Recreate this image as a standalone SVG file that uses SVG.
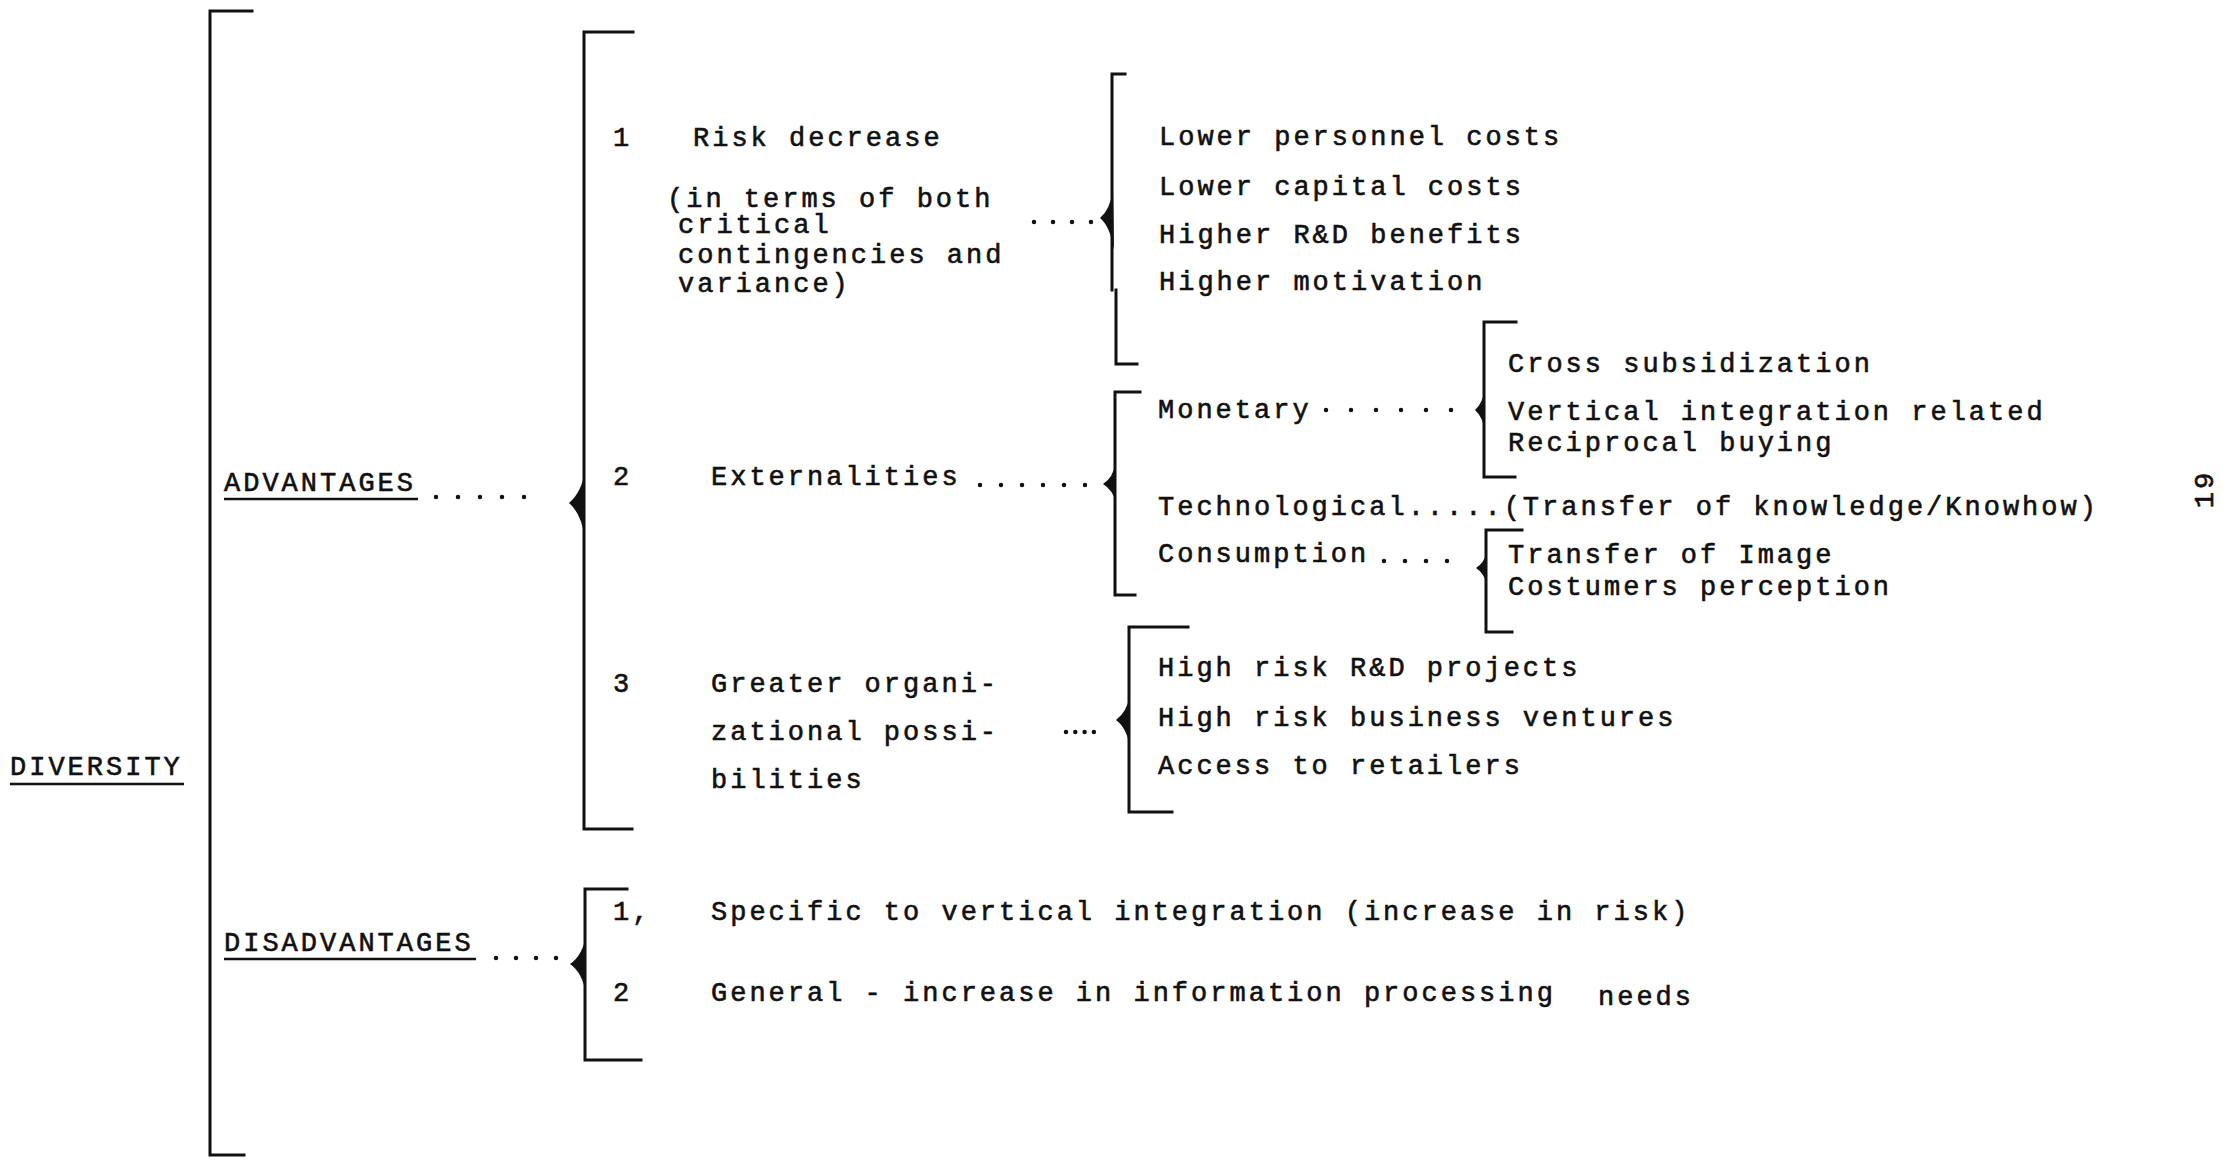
<svg xmlns="http://www.w3.org/2000/svg" width="2223" height="1161" viewBox="0 0 2223 1161">
<style>
  text { font-family: "Liberation Mono", "Courier New", monospace; font-size: 27px; letter-spacing: 3px; fill: #111; stroke: #111; stroke-width: 0.6px; }
  .br { fill: none; stroke: #111; stroke-width: 3; stroke-linecap: square; }
  .cusp { fill: #111; stroke: none; }
  .ul { stroke: #111; stroke-width: 2.5; }
  .lead { stroke: #111; stroke-width: 4.5; stroke-linecap: round; fill: none; }
</style>
<rect width="2223" height="1161" fill="#ffffff"/>

<g id="connectors">
  <line class="lead" x1="436" y1="497" x2="526" y2="497" stroke-dasharray="0 22"/>
  <line class="lead" x1="980" y1="485" x2="1087" y2="485" stroke-dasharray="0 21"/>
  <line class="lead" x1="1034" y1="222" x2="1093" y2="222" stroke-dasharray="0 19"/>
  <line class="lead" x1="1326" y1="410" x2="1453" y2="410" stroke-dasharray="0 25"/>
  <line class="lead" x1="1384" y1="561" x2="1450" y2="561" stroke-dasharray="0 21"/>
  <line class="lead" x1="1066" y1="732" x2="1096" y2="732" stroke-dasharray="0 9.3"/>
  <line class="lead" x1="496" y1="958" x2="558" y2="958" stroke-dasharray="0 20"/>
</g>

<g id="diversity">
  <text x="10" y="775">DIVERSITY</text>
  <line class="ul" x1="10" y1="784" x2="184" y2="784"/>
  <path class="br" d="M252 11 H210 V1155 H244"/>
</g>

<g id="advantages">
  <text x="224" y="491">ADVANTAGES</text>
  <line class="ul" x1="224" y1="499" x2="418" y2="499"/>
  <path class="br" d="M633 32 H584 V829 H632"/>
  <path class="cusp" d="M585 470 Q582 492 569 503 Q582 514 585 540 Z"/>
</g>

<g id="risk-decrease">
  <text x="613" y="146">1</text>
  <text x="693" y="146">Risk decrease</text>
  <text x="667" y="207">(in terms of both</text>
  <text x="678" y="233">critical</text>
  <text x="678" y="263">contingencies and</text>
  <text x="678" y="292">variance)</text>
</g>

<g id="risk-items">
  <path class="br" d="M1125 74 H1112 V290 M1116 290 V364 H1137"/>
  <path class="cusp" d="M1113 190 Q1110 210 1100 218 Q1110 226 1114 250 Z"/>
  <text x="1159" y="145">Lower personnel costs</text>
  <text x="1159" y="195">Lower capital costs</text>
  <text x="1159" y="243">Higher R&amp;D benefits</text>
  <text x="1159" y="290">Higher motivation</text>
</g>

<g id="externalities">
  <text x="613" y="485">2</text>
  <text x="711" y="485">Externalities</text>
</g>

<g id="externality-types">
  <path class="br" d="M1140 392 H1115 V595 H1135"/>
  <path class="cusp" d="M1116 462 Q1113 478 1103 484 Q1113 490 1116 503 Z"/>
  <text x="1158" y="418">Monetary</text>
  <text x="1158" y="515">Technological.....(Transfer of knowledge/Knowhow)</text>
  <text x="1158" y="562">Consumption</text>
</g>

<g id="monetary-items">
  <path class="br" d="M1516 322 H1484 V477 H1515"/>
  <path class="cusp" d="M1485 388 Q1483 403 1475 410 Q1483 417 1485 432 Z"/>
  <text x="1508" y="372">Cross subsidization</text>
  <text x="1508" y="420">Vertical integration related</text>
  <text x="1508" y="451">Reciprocal buying</text>
</g>

<g id="consumption-items">
  <path class="br" d="M1522 530 H1486 V632 H1512"/>
  <path class="cusp" d="M1487 552 Q1484 563 1476 568 Q1484 573 1487 585 Z"/>
  <text x="1508" y="563">Transfer of Image</text>
  <text x="1508" y="595">Costumers perception</text>
</g>

<g id="organizational">
  <text x="613" y="692">3</text>
  <text x="711" y="692">Greater organi-</text>
  <text x="711" y="740">zational possi-</text>
  <text x="711" y="788">bilities</text>
</g>

<g id="organizational-items">
  <path class="br" d="M1188 627 H1129 V812 H1172"/>
  <path class="cusp" d="M1130 695 Q1127 712 1116 720 Q1127 728 1130 748 Z"/>
  <text x="1158" y="676">High risk R&amp;D projects</text>
  <text x="1158" y="726">High risk business ventures</text>
  <text x="1158" y="774">Access to retailers</text>
</g>

<g id="disadvantages">
  <text x="224" y="951">DISADVANTAGES</text>
  <line class="ul" x1="224" y1="959" x2="476" y2="959"/>
  <path class="br" d="M627 889 H585 V1060 H641"/>
  <path class="cusp" d="M586 935 Q583 955 570 964 Q583 973 586 995 Z"/>
</g>

<g id="disadvantage-items">
  <text x="613" y="920">1,</text>
  <text x="711" y="920">Specific to vertical integration (increase in risk)</text>
  <text x="613" y="1001">2</text>
  <text x="711" y="1001">General - increase in information processing<tspan x="1598" y="1005">needs</tspan></text>
</g>

<g id="page-number">
  <text transform="translate(2213 489) rotate(-90)" text-anchor="middle">19</text>
</g>
</svg>
